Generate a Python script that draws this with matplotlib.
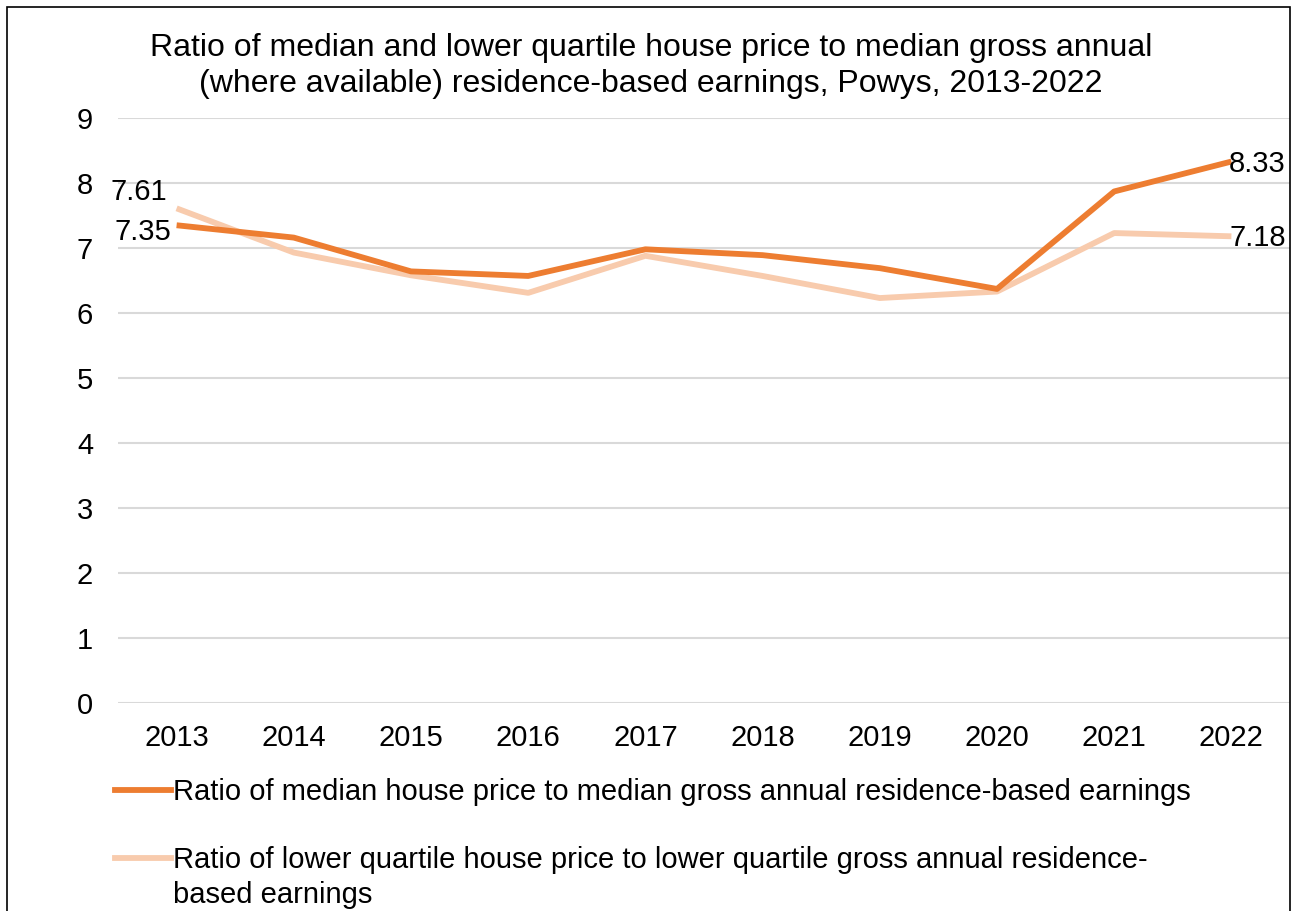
import matplotlib
matplotlib.use('Agg')
import matplotlib.pyplot as plt
from matplotlib.lines import Line2D
from matplotlib.patches import Rectangle

plt.rcParams['font.family'] = ['Liberation Sans', 'DejaVu Sans']

years = ['2013', '2014', '2015', '2016', '2017', '2018', '2019', '2020', '2021', '2022']
median_ratio = [7.35, 7.16, 6.64, 6.57, 6.98, 6.89, 6.69, 6.37, 7.87, 8.33]
lower_q_ratio = [7.61, 6.93, 6.58, 6.31, 6.88, 6.57, 6.23, 6.33, 7.23, 7.18]

title = ('Ratio of median and lower quartile house price to median gross annual\n'
         '(where available) residence-based earnings, Powys, 2013-2022')
label_median = 'Ratio of median house price to median gross annual residence-based earnings'
label_lower = ('Ratio of lower quartile house price to lower quartile gross annual residence-\n'
               'based earnings')

c_median = '#ED7D31'
c_lower = '#F8CBAD'
fs = 21

W, H = 1293, 911
fig = plt.figure(figsize=(W / 100, H / 100), dpi=100)
ax = fig.add_axes([118 / W, 1 - 703 / H, 1172 / W, 585 / H])

x = list(range(len(years)))
ax.plot(x, lower_q_ratio, color=c_lower, lw=4.2, solid_capstyle='butt', zorder=3)
ax.plot(x, median_ratio, color=c_median, lw=4.2, solid_capstyle='butt', zorder=4)

ax.set_xlim(-0.5, len(years) - 0.5)
ax.set_ylim(0, 9)
ax.set_yticks(range(0, 10))
ax.set_xticks(x)
ax.set_xticklabels(years)
ax.tick_params(axis='both', length=0, labelsize=fs)
ax.tick_params(axis='y', pad=18)
ax.tick_params(axis='x', pad=15)
ax.grid(axis='y', color='#D9D9D9', lw=1.5)
ax.set_axisbelow(True)
for s in ax.spines.values():
    s.set_visible(False)

# data labels at the ends
ax.annotate(f'{lower_q_ratio[0]:.2f}', (x[0], lower_q_ratio[0]), xytext=(-9, 8),
            textcoords='offset pixels', ha='right', va='baseline', fontsize=fs)
ax.annotate(f'{median_ratio[0]:.2f}', (x[0], median_ratio[0]), xytext=(-5, -15),
            textcoords='offset pixels', ha='right', va='baseline', fontsize=fs)
ax.annotate(f'{median_ratio[-1]:.2f}', (x[-1], median_ratio[-1]), xytext=(-3, -10),
            textcoords='offset pixels', ha='left', va='baseline', fontsize=fs, zorder=5)
ax.annotate(f'{lower_q_ratio[-1]:.2f}', (x[-1], lower_q_ratio[-1]), xytext=(-2, -10),
            textcoords='offset pixels', ha='left', va='baseline', fontsize=fs, zorder=5)

fig.text(651 / W, 1 - 66 / H, title, ha='center', va='center', fontsize=23,
         linespacing=1.27)

# legend below the plot
for yy, col, lab in [(790, c_median, label_median), (858, c_lower, label_lower)]:
    fig.add_artist(Line2D([115 / W, 171 / W], [1 - yy / H, 1 - yy / H],
                          color=col, lw=4.2, transform=fig.transFigure))
    fig.text(173 / W, 1 - (yy - 12) / H, lab, ha='left', va='top', fontsize=fs,
             linespacing=1.32)

# outer frame
fig.add_artist(Rectangle((7 / W, -0.01), 1283 / W, 1 - 7 / H + 0.01,
                         transform=fig.transFigure, fill=False, ec='black', lw=1.2))

fig.savefig('out.png', dpi=100)
